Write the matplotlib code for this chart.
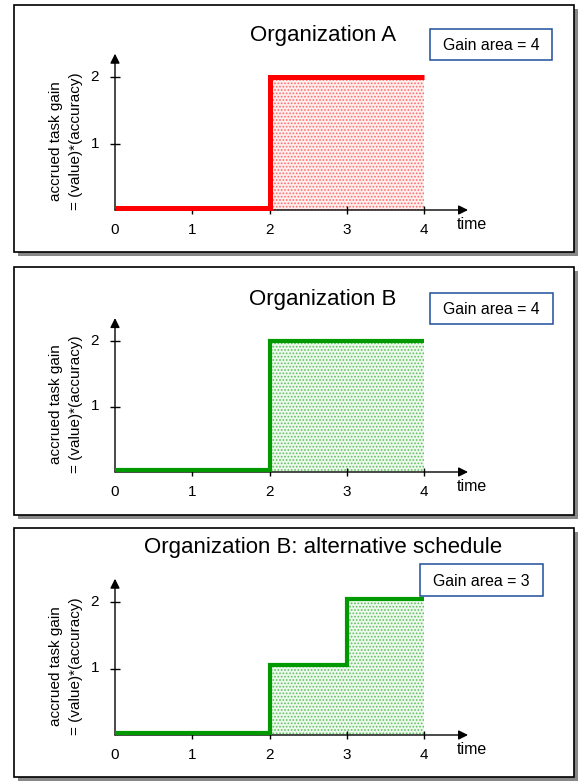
import numpy as np
import matplotlib.pyplot as plt
from matplotlib.patches import Rectangle

plt.rcParams['font.family'] = ['Liberation Sans', 'DejaVu Sans']
plt.rcParams['hatch.linewidth'] = 0.8

# -----------------------------------------------------------------------------
# data
x_ticks = [0, 1, 2, 3, 4]
y_ticks = [1, 2]

times_a = [0, 2, 4]
gain_a = [0.03, 2, 2]

times_b = [0, 2, 4]
gain_b = [0.03, 2, 2]

times_alt = [0, 2, 3, 4]
gain_alt = [0.03, 1.05, 2.05, 2.05]

titles = ["Organization A", "Organization B", "Organization B: alternative schedule"]
gain_labels = ["Gain area = 4", "Gain area = 4", "Gain area = 3"]

# -----------------------------------------------------------------------------
# layout (pixels from top left of a 579x781 image)
W, H = 579, 781
fig = plt.figure(figsize=(W / 100, H / 100), dpi=100)


def fx(px):
    return px / W


def fy(py):
    return 1 - py / H


def fig_rect(x0, y0, x1, y1, **kw):
    r = Rectangle((fx(x0), fy(y1)), fx(x1) - fx(x0), fy(y0) - fy(y1),
                  transform=fig.transFigure, **kw)
    fig.patches.append(r)


# panel frames: (top, bottom), axis y0/y2 pixel, title y, gain box
panels = [
    dict(top=5, bot=252, y0=210, y2=77, ty=36, box=(430, 29, 552, 60)),
    dict(top=267, bot=515, y0=472, y2=341, ty=299, box=(430, 293, 553, 324)),
    dict(top=528, bot=777, y0=735, y2=602, ty=548, box=(420, 564, 543, 596)),
]
series = [(times_a, gain_a, '#ff0000', '#ff6a6a', '#ffeeee', 3.6),
          (times_b, gain_b, '#009a00', '#5cc05c', '#eef9ee', 3.0),
          (times_alt, gain_alt, '#009a00', '#5cc05c', '#eef9ee', 3.0)]

x0_px, x4_px = 115, 424

for p, (t, g, lc, hc, fc, lw), title, glabel in zip(panels, series, titles, gain_labels):
    # frame with shadow
    fig_rect(14 + 4, p['top'] + 4, 574 + 4, p['bot'] + 4, facecolor='#888888', edgecolor='none', zorder=0)
    fig_rect(14, p['top'], 574, p['bot'], facecolor='white', edgecolor='black', lw=1.2, zorder=1)

    # gain box
    bx0, by0, bx1, by1 = p['box']
    fig_rect(bx0, by0, bx1, by1, facecolor='white', edgecolor='#1f4e9c', lw=1.1, zorder=2)
    fig.text(fx((bx0 + bx1) / 2), fy((by0 + by1) / 2 + 1), glabel, ha='center', va='center',
             fontsize=11.4, zorder=3)

    fig.text(fx(323), fy(p['ty']), title, ha='center', va='center', fontsize=16, zorder=3)

    ax = fig.add_axes([fx(x0_px), fy(p['y0']), fx(x4_px) - fx(x0_px), fy(p['y2']) - fy(p['y0'])])
    ax.set_xlim(0, 4)
    ax.set_ylim(0, 2)
    ax.axis('off')
    ax.set_zorder(5)

    t = np.array(t)
    g = np.array(g)
    # shaded gain area
    ax.fill_between(t, 0, g, where=t >= 2, step='post', facecolor=fc, edgecolor=hc,
                    hatch='.....', linewidth=0, clip_on=False, zorder=1)

    # axes with arrows
    ax.annotate('', xy=(4.57, 0), xytext=(0, 0), annotation_clip=False,
                arrowprops=dict(arrowstyle='-|>', color='black', lw=1, mutation_scale=14,
                                shrinkA=0, shrinkB=0), zorder=2)
    ax.annotate('', xy=(0, 2.35), xytext=(0, 0), annotation_clip=False,
                arrowprops=dict(arrowstyle='-|>', color='black', lw=1, mutation_scale=14,
                                shrinkA=0, shrinkB=0), zorder=2)
    ax.vlines(x_ticks[1:], -0.065, 0.065, color='black', lw=1, clip_on=False, zorder=2)
    ax.hlines(y_ticks, -0.06, 0.06, color='black', lw=1, clip_on=False, zorder=2)
    for xt in x_ticks:
        ax.text(xt, -0.3, str(xt), ha='center', va='center', fontsize=11, clip_on=False)
    for yt in y_ticks:
        ax.text(-0.26, yt, str(yt), ha='center', va='center', fontsize=11, clip_on=False)
    ax.text(4.62, -0.22, "time", ha='center', va='center', fontsize=11.5, clip_on=False)
    ax.text(-0.635, 1.03, "accrued task gain\n= (value)*(accuracy)", rotation=90,
            ha='center', va='center', multialignment='center', linespacing=1.5,
            fontsize=11, clip_on=False)

    # gain step line
    ax.step(t, g, where='post', color=lc, lw=lw, solid_capstyle='butt',
            solid_joinstyle='miter', clip_on=False, zorder=3)

fig.savefig('out.png', dpi=100, facecolor='white')
